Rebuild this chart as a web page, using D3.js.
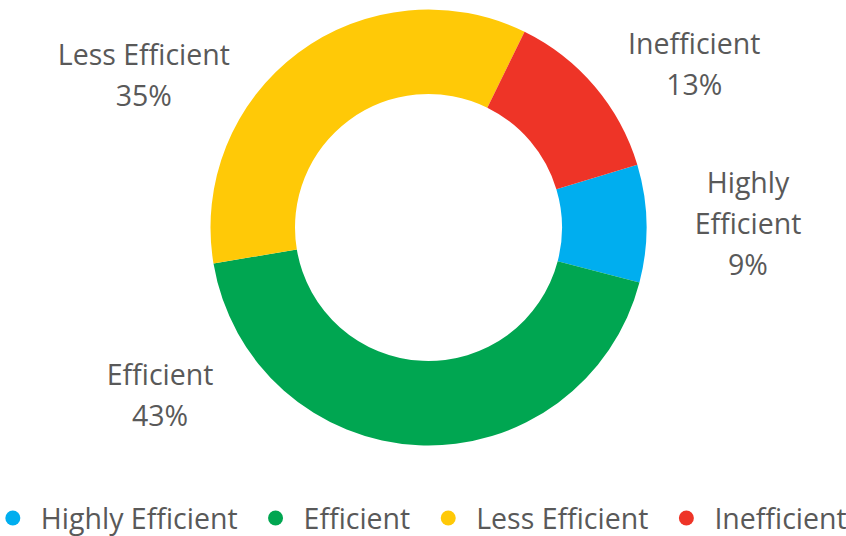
<!DOCTYPE html>
<html>
<head>
<meta charset="utf-8">
<script src="https://cdn.jsdelivr.net/npm/d3@7/dist/d3.min.js"></script>
<style>
  body { margin: 0; background: #fff; }
  text { font-family: "Open Sans", "Noto Sans", sans-serif; fill: #595959; }
</style>
</head>
<body>
<div id="chart"></div>
<script>
// data
var categories = ["Highly Efficient", "Efficient", "Less Efficient", "Inefficient"];
var values = [8.7, 43.3, 34.9, 13.1];
var colors = ["#00aeef", "#00a651", "#ffc907", "#ee3427"];
// label lines (name split over lines like the original)
var labelLines = [["Highly", "Efficient"], ["Efficient"], ["Less Efficient"], ["Inefficient"]];

var width = 846,
    height = 536,
    cx = 428.5,
    cy = 227.5,
    outerR = 218,
    innerR = 133.5,
    fontSize = 28.5,
    lineH = 41;

// where each label sits around the ring (degrees clockwise from top, distance from centre)
var labelAngles = [89.4, 238, 298.2, 58.4],
    labelRadii = [319.5, 316.5, 323, 312];

var svg = d3.select("#chart")
    .append("svg")
    .attr("width", width)
    .attr("height", height);

var g = svg.append("g")
    .attr("transform", "translate(" + cx + "," + cy + ")");

var pie = d3.pie()
    .sort(null)
    .startAngle(73.3 * Math.PI / 180) // first slice starts right of top like the original
    .endAngle(73.3 * Math.PI / 180 + 2 * Math.PI)
    .value(d => d);

var arc = d3.arc()
    .innerRadius(innerR)
    .outerRadius(outerR);

var arcs = pie(values);

g.selectAll("path")
    .data(arcs)
    .enter().append("path")
    .attr("d", arc)
    .style("fill", (d, i) => colors[i]);

// data labels
var total = d3.sum(values);

var labels = g.selectAll("g.label")
    .data(arcs)
    .enter().append("g")
    .attr("class", "label")
    .attr("transform", (d, i) => {
        var a = labelAngles[i] * Math.PI / 180;
        var p = d3.arc().innerRadius(labelRadii[i]).outerRadius(labelRadii[i])
            .centroid({ startAngle: a, endAngle: a });
        return "translate(" + p[0] + "," + p[1] + ")";
    });

labels.each(function (d, i) {
    var lines = labelLines[i].concat([Math.round(values[i] / total * 100) + "%"]);
    var top = -(lines.length - 1) * lineH / 2 + fontSize * 0.36;
    d3.select(this).selectAll("text")
        .data(lines)
        .enter().append("text")
        .attr("text-anchor", "middle")
        .attr("y", (t, j) => top + j * lineH)
        .style("font-size", fontSize + "px")
        .text(t => t);
});

// legend
var legend = svg.append("g").attr("transform", "translate(0,529)");
var items = legend.selectAll("g")
    .data(categories)
    .enter().append("g");

items.append("circle")
    .attr("r", 7.5)
    .attr("cy", -11)
    .style("fill", (d, i) => colors[i]);

items.append("text")
    .attr("x", 28)
    .style("font-size", fontSize + "px")
    .text(d => d);

// lay legend items out side by side, centred
var gap = 38, x = 0, offs = [];
items.each(function () {
    offs.push(x);
    x += 28 + this.querySelector("text").getComputedTextLength() + gap;
});
var legendW = x - gap + 7.5;
var startX = 426 - legendW / 2 + 7.5;
items.attr("transform", (d, i) => "translate(" + (startX + offs[i]) + ",0)");
</script>
</body>
</html>
